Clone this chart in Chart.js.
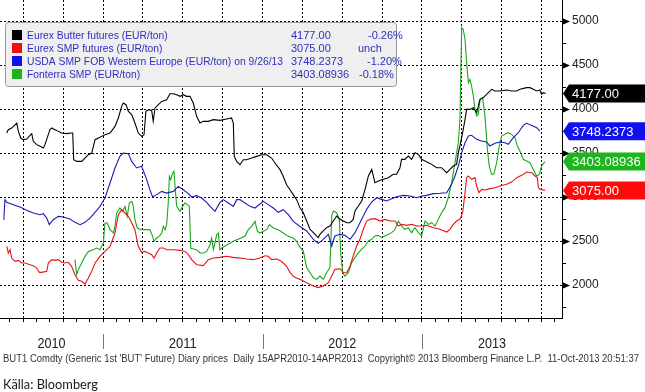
<!DOCTYPE html>
<html><head><meta charset="utf-8">
<script src="https://cdn.jsdelivr.net/npm/chart.js@4.4.0/dist/chart.umd.min.js"></script>
<style>html,body{margin:0;padding:0;background:#fff;overflow:hidden}canvas{display:block}</style>
</head><body>
<canvas id="c" width="645" height="392"></canvas>
<script>
// ---- DATA (x = decimal year) ----
const butterX = [2010.396,2010.406,2010.427,2010.459,2010.469,2010.484,2010.500,2010.521,2010.553,2010.563,
2010.584,2010.605,2010.626,2010.636,2010.667,2010.678,2010.699,2010.720,2010.741,2010.772,
2010.803,2010.810,2010.816,2010.835,2010.866,2010.887,2010.908,2010.929,2010.950,2010.971,
2010.991,2011.012,2011.044,2011.075,2011.096,2011.117,2011.127,2011.144,2011.159,2011.180,
2011.200,2011.221,2011.242,2011.257,2011.269,2011.284,2011.305,2011.315,2011.326,2011.347,
2011.368,2011.399,2011.420,2011.441,2011.462,2011.483,2011.503,2011.524,2011.545,2011.566,
2011.587,2011.608,2011.629,2011.660,2011.692,2011.733,2011.775,2011.806,2011.817,2011.823,
2011.838,2011.859,2011.880,2011.901,2011.932,2011.963,2011.995,2012.026,2012.057,2012.078,
2012.110,2012.130,2012.151,2012.172,2012.193,2012.214,2012.235,
2012.256,2012.277,2012.298,2012.319,2012.350,2012.360,2012.381,2012.402,2012.423,2012.444,
2012.465,2012.486,2012.507,2012.528,2012.549,2012.569,2012.580,2012.601,2012.622,2012.643,
2012.664,2012.685,2012.705,2012.726,2012.758,2012.789,2012.820,2012.841,2012.862,2012.872,
2012.893,2012.914,2012.935,2012.956,2012.977,2012.998,2013.019,2013.040,2013.061,2013.092,
2013.123,2013.155,2013.176,2013.196,2013.217,2013.228,2013.238,2013.255,2013.270,2013.280,
2013.301,2013.322,2013.343,2013.364,2013.385,2013.405,2013.437,2013.458,2013.489,2013.531,
2013.562,2013.594,2013.614,2013.656,2013.677,2013.698,2013.719,2013.740,2013.750,2013.761,2013.775];
const butterY = [3727,3765,3784,3841,3746,3670,3652,3659,3720,3633,
3595,3576,3557,3595,3765,3784,3765,3746,3727,3720,
3727,3727,3424,3405,3405,3443,3481,3500,3652,3670,
3689,3708,3727,3803,3898,4030,4068,4049,3973,3936,
3841,3727,3689,3708,3973,3992,3985,3860,4012,4049,
4087,4106,4174,4174,4163,4144,4163,4144,4144,4068,
3917,3841,3860,3860,3879,3871,3886,3898,3841,3462,
3405,3367,3424,3424,3443,3462,3481,3481,3443,3386,
3311,3235,3140,3083,3027,2970,2877,
2822,2727,2633,2595,2538,2576,2614,2651,2670,2727,
2784,2746,2727,2708,2708,2746,2841,2898,2955,3087,
3239,3314,3163,3182,3201,3220,3258,3258,3333,3428,
3428,3466,3428,3504,3485,3428,3409,3390,3371,3333,
3333,3276,3314,3352,3371,3504,3580,3731,3883,3996,
3996,4015,3958,4110,4129,4167,4224,4205,4205,4216,
4205,4205,4224,4243,4243,4224,4205,4216,4167,4186,4177];

const smpX = [2010.396,2010.406,2010.417,2010.427,2010.448,2010.469,2010.490,2010.511,2010.542,2010.563,
2010.584,2010.601,2010.615,2010.647,2010.657,2010.678,2010.699,2010.720,2010.741,2010.762,
2010.782,2010.803,2010.824,2010.845,2010.866,2010.887,2010.908,2010.929,2010.950,2010.981,
2011.012,2011.044,2011.075,2011.096,2011.117,2011.138,2011.159,2011.180,2011.200,2011.221,
2011.242,2011.263,2011.284,2011.305,2011.320,2011.336,2011.357,2011.378,2011.399,2011.441,
2011.483,2011.514,2011.535,2011.556,2011.587,2011.629,2011.660,2011.692,2011.733,2011.775,
2011.817,2011.859,2011.901,2011.942,2011.984,2012.015,2012.036,2012.057,2012.089,2012.110,
2012.130,2012.151,2012.172,2012.193,2012.214,
2012.235,2012.277,2012.319,2012.350,2012.381,2012.413,2012.434,2012.454,2012.486,2012.507,
2012.528,2012.549,2012.569,2012.590,2012.611,2012.632,2012.653,2012.674,2012.705,2012.737,
2012.768,2012.799,2012.831,2012.852,2012.872,2012.904,2012.935,2012.967,2012.998,2013.029,
2013.071,2013.113,2013.155,2013.176,2013.196,2013.217,2013.238,2013.255,2013.270,2013.280,
2013.291,2013.311,2013.332,2013.343,2013.357,2013.374,2013.395,2013.426,2013.458,2013.489,
2013.531,2013.562,2013.594,2013.625,2013.656,2013.688,2013.709,2013.723,2013.730,2013.740,2013.771];
const smpY = [2439,2364,2401,2306,2269,2280,2250,2250,2231,2220,
2193,2144,2144,2155,2250,2288,2280,2288,2258,2250,
2258,2212,2117,2053,2042,2011,2079,2155,2250,2326,
2382,2439,2591,2799,2856,2818,2780,2705,2629,2439,
2371,2382,2364,2345,2306,2364,2420,2420,2401,2401,
2394,2382,2345,2288,2231,2220,2288,2306,2314,2326,
2314,2306,2295,2288,2306,2333,2326,2288,2295,2280,
2250,2212,2144,2099,2079,
2064,2026,1989,1970,1989,2026,2102,2178,2185,2140,
2140,2216,2330,2443,2519,2633,2727,2746,2754,2727,
2746,2727,2727,2670,2689,2678,2689,2670,2670,2678,
2651,2633,2602,2633,2689,2727,2746,2822,3049,3220,
3239,3201,3220,3125,3049,3087,3080,3095,3106,3125,
3144,3170,3220,3246,3284,3276,3239,3220,3106,3087,3075];

const usdaX = [2010.378,2010.385,2010.396,2010.438,2010.479,2010.521,2010.563,2010.605,2010.626,2010.647,2010.663,
2010.688,2010.720,2010.751,2010.793,2010.824,2010.856,2010.887,2010.918,2010.950,2010.981,
2011.012,2011.044,2011.075,2011.106,2011.127,2011.159,2011.180,2011.211,2011.242,2011.274,
2011.294,2011.311,2011.336,2011.368,2011.399,2011.441,2011.472,2011.503,2011.535,2011.556,
2011.587,2011.618,2011.650,2011.671,2011.702,2011.733,2011.754,2011.786,2011.817,2011.838,
2011.859,2011.890,2011.922,2011.953,2011.984,2012.005,2012.036,2012.068,2012.099,2012.130,
2012.162,2012.193,2012.235,
2012.277,2012.319,2012.350,2012.381,2012.413,2012.434,2012.454,2012.486,2012.517,2012.549,
2012.580,2012.611,2012.653,2012.684,2012.716,2012.747,2012.778,2012.810,2012.841,2012.883,
2012.925,2012.967,2012.998,2013.029,2013.071,2013.113,2013.155,2013.186,2013.207,2013.228,
2013.249,2013.270,2013.291,2013.311,2013.343,2013.374,2013.405,2013.426,2013.458,2013.489,
2013.520,2013.541,2013.573,2013.604,2013.635,2013.656,2013.688,2013.719,2013.740];
const usdaY = [2740,2970,2939,2913,2886,2849,2818,2799,2810,2761,2686,
2742,2780,2773,2750,2712,2686,2712,2761,2826,2894,
2989,3159,3330,3462,3500,3492,3405,3330,3349,3197,
3083,3000,3027,3064,3045,3064,3121,3083,3038,3000,
3015,2989,2939,2894,2837,2939,2970,2932,2894,2970,
2970,2932,2894,2875,2920,2951,2913,2875,2826,2856,
2799,2723,2665,
2614,2519,2473,2519,2576,2443,2557,2576,2564,2519,
2595,2708,2860,2943,2992,2973,2955,2981,3004,3019,
3011,2992,3011,3019,3038,3042,3049,3144,3239,3352,
3504,3617,3693,3701,3655,3636,3625,3580,3610,3625,
3617,3599,3674,3731,3814,3837,3814,3788,3748];

const fonterraX = [2010.824,2010.835,2010.845,2010.866,2010.887,2010.908,2010.939,2010.960,2010.981,2011.002,
2011.012,2011.027,2011.044,2011.065,2011.075,2011.086,2011.106,2011.123,2011.138,2011.152,
2011.165,2011.180,2011.190,2011.200,2011.215,2011.242,2011.294,2011.311,2011.320,2011.336,
2011.353,2011.368,2011.378,2011.389,2011.399,2011.409,2011.416,2011.424,2011.437,2011.445,
2011.453,2011.462,2011.483,2011.499,2011.514,2011.529,2011.541,2011.550,2011.566,2011.587,
2011.608,2011.629,2011.650,2011.671,2011.681,2011.692,2011.702,2011.712,2011.723,2011.733,
2011.744,2011.817,2011.890,2011.911,2011.932,2011.953,2011.968,2011.984,2012.005,2012.026,
2012.043,2012.068,2012.099,2012.130,2012.162,2012.193,2012.214,2012.231,
2012.256,2012.277,2012.298,2012.319,2012.340,2012.360,2012.381,2012.402,2012.423,2012.434,
2012.444,2012.465,2012.482,2012.490,2012.503,2012.517,2012.538,2012.559,2012.580,2012.601,
2012.622,2012.643,2012.664,2012.685,2012.705,2012.726,2012.747,2012.768,2012.789,2012.810,
2012.831,2012.852,2012.872,2012.893,2012.914,2012.935,2012.956,2012.977,2012.998,2013.019,
2013.040,2013.061,2013.082,2013.102,2013.123,2013.144,2013.165,2013.186,2013.207,2013.228,
2013.238,2013.249,2013.259,2013.270,2013.280,2013.291,2013.301,2013.311,2013.322,2013.332,
2013.343,2013.353,2013.364,2013.380,2013.395,2013.410,2013.422,2013.437,2013.451,2013.468,
2013.483,2013.499,2013.520,2013.541,2013.562,2013.583,2013.598,2013.614,2013.635,2013.656,
2013.677,2013.698,2013.719,2013.736,2013.750,2013.771];
const fonterraY = [2288,2117,2174,2250,2326,2382,2401,2420,2401,2477,
2705,2705,2629,2591,2667,2818,2875,2837,2894,2780,
2932,2951,2894,2742,2648,2629,2629,2553,2496,2534,
2553,2591,2667,2629,2686,2932,3235,3197,3273,3292,
3083,2894,2837,2894,2932,2913,2894,2420,2409,2401,
2364,2364,2382,2458,2534,2401,2477,2572,2591,2401,
2420,2496,2553,2629,2667,2723,2610,2591,2610,2629,
2686,2648,2629,2591,2553,2534,2496,2439,
2386,2197,2140,2083,2064,2102,2064,2140,2197,2784,
2841,2822,2746,2367,2140,2102,2140,2254,2311,2367,
2405,2443,2500,2519,2557,2564,2538,2557,2576,2595,
2633,2727,2670,2633,2651,2595,2651,2595,2557,2727,
2689,2708,2670,2746,2822,2879,2992,3163,3390,3617,
3883,4924,4905,4792,4527,4299,4337,4261,4148,3996,
3921,3939,4110,4129,3921,3542,3352,3258,3258,3390,
3561,3693,3712,3731,3712,3674,3580,3523,3428,3409,
3390,3314,3239,3258,3352,3403];

// ---- LABELS ----
const seriesNames = ['Eurex Butter futures (EUR/ton)','Eurex SMP futures (EUR/ton)','USDA SMP FOB Western Europe (EUR/ton) on 9/26/13','Fonterra SMP (EUR/ton)'];
const lastLabels = ['4177.00','3075.00','3748.2373','3403.08936'];
const lastValues = [4177.00,3075.00,3748.2373,3403.08936];
const changeLabels = ['-0.26%','unch','-1.20%','-0.18%'];
const lineColors = ['#000000','#e81414','#1c1cb4','#1aa81a'];
const tagColors = ['#000000','#ff0a0a','#1010ee','#1eb41e'];
const yearLabels = ['2010','2011','2012','2013'];
const yMajorTicks = [2000,2500,3000,3500,4000,4500,5000];
const yMinorTicks = [1750,2250,2750,3250,3750,4250,4750];
const footerText = "BUT1 Comdty (Generic 1st 'BUT' Future) Diary prices  Daily 15APR2010-14APR2013  Copyright\u00A9 2013 Bloomberg Finance L.P.  11-Oct-2013 20:51:37";
const sourceText = 'Källa: Bloomberg';

const X_MIN = 2010.354, X_MAX = 2013.878;
const Y_MIN = 1625, Y_MAX = 5239;

const pts = (xs, ys) => xs.map((x, i) => ({x: x, y: ys[i]}));
const monthTicks = [];
for (let m = 5; m <= 46; m++) monthTicks.push(2010 + m / 12);
const isQuarter = v => Math.round((v - 2010) * 12) % 3 === 0;
const isMajorY = v => yMajorTicks.includes(v);

const decor = {
  id: 'decor',
  afterDraw(chart) {
    const {ctx, chartArea: ca, scales: {x, y}} = chart;
    ctx.save();
    // arrows on major y ticks
    ctx.fillStyle = '#000';
    yMajorTicks.forEach(v => {
      const py = Math.round(y.getPixelForValue(v)) + 0.5;
      ctx.beginPath();
      ctx.moveTo(ca.right, py - 3.5); ctx.lineTo(ca.right + 8, py); ctx.lineTo(ca.right, py + 3.5);
      ctx.closePath(); ctx.fill();
    });
    // year labels + separators
    ctx.font = "14px 'Liberation Sans', sans-serif";
    ctx.fillStyle = '#222'; ctx.textAlign = 'center'; ctx.textBaseline = 'alphabetic';
    yearLabels.forEach(lbl => {
      const yr = parseInt(lbl, 10);
      const a = x.getPixelForValue(Math.max(yr, X_MIN));
      const b = x.getPixelForValue(Math.min(yr + 1, X_MAX));
      ctx.fillText(lbl, (a + b) / 2, 348, 28);
      if (yr > X_MIN && yr < X_MAX) {
        const sx = Math.round(x.getPixelForValue(yr)) + 0.5;
        ctx.strokeStyle = '#777'; ctx.lineWidth = 1;
        ctx.beginPath(); ctx.moveTo(sx, 334); ctx.lineTo(sx, 349); ctx.stroke();
      }
    });
    // footer
    ctx.textAlign = 'left';
    ctx.font = "10px 'Liberation Sans', sans-serif";
    ctx.fillStyle = '#333';
    ctx.fillText(footerText, 3, 362, 636);
    ctx.font = "14px Lato, 'Open Sans', sans-serif";
    ctx.fillStyle = '#1a1a1a';
    ctx.fillText(sourceText, 3, 389, 95);
    // legend box
    const lx = 5.5, ly = 22.5, lw = 391, lh = 64, r = 3;
    ctx.beginPath();
    ctx.moveTo(lx + r, ly); ctx.lineTo(lx + lw - r, ly); ctx.quadraticCurveTo(lx + lw, ly, lx + lw, ly + r);
    ctx.lineTo(lx + lw, ly + lh - r); ctx.quadraticCurveTo(lx + lw, ly + lh, lx + lw - r, ly + lh);
    ctx.lineTo(lx + r, ly + lh); ctx.quadraticCurveTo(lx, ly + lh, lx, ly + lh - r);
    ctx.lineTo(lx, ly + r); ctx.quadraticCurveTo(lx, ly, lx + r, ly); ctx.closePath();
    ctx.fillStyle = '#efefef'; ctx.fill();
    ctx.strokeStyle = '#9a9a9a'; ctx.lineWidth = 1; ctx.stroke();
    const rowY = [35, 48, 61, 74];
    const chgX = [368, 358, 367, 359];
    ctx.font = "11px 'Liberation Sans', sans-serif";
    ctx.textBaseline = 'middle';
    const squeeze = Math.min(1, 256 / ctx.measureText(seriesNames[2]).width);
    seriesNames.forEach((n, i) => {
      ctx.fillStyle = tagColors[i];
      ctx.fillRect(12, rowY[i] - 5, 10, 10);
      ctx.fillStyle = '#2e2ec4';
      ctx.fillText(n, 27, rowY[i] + 0.5, ctx.measureText(n).width * squeeze);
      ctx.fillText(lastLabels[i], 291, rowY[i] + 0.5);
      ctx.fillText(changeLabels[i], chgX[i], rowY[i] + 0.5);
    });
    // value tags on the right axis
    ctx.font = "13px 'Liberation Sans', sans-serif";
    lastValues.forEach((v, i) => {
      const cy = y.getPixelForValue(v);
      const h = 18, left = ca.right + 1, bx = ca.right + 7, right = 645;
      ctx.beginPath();
      ctx.moveTo(left, cy); ctx.lineTo(bx, cy - h / 2); ctx.lineTo(right, cy - h / 2);
      ctx.lineTo(right, cy + h / 2); ctx.lineTo(bx, cy + h / 2); ctx.closePath();
      ctx.fillStyle = tagColors[i]; ctx.fill();
      ctx.fillStyle = '#fff';
      ctx.fillText(lastLabels[i], ca.right + 10, cy + 1);
    });
    ctx.restore();
  }
};

const ds = (label, xs, ys, color) => ({
  label, data: pts(xs, ys), borderColor: color, backgroundColor: color,
  borderWidth: 1.1, pointRadius: 0, tension: 0, fill: false
});

new Chart(document.getElementById('c'), {
  type: 'line',
  data: {
    datasets: [
      ds(seriesNames[0], butterX, butterY, lineColors[0]),
      ds(seriesNames[2], usdaX, usdaY, lineColors[2]),
      ds(seriesNames[1], smpX, smpY, lineColors[1]),
      ds(seriesNames[3], fonterraX, fonterraY, lineColors[3])
    ]
  },
  options: {
    responsive: false, animation: false, events: [],
    layout: {padding: 0},
    plugins: {legend: {display: false}, tooltip: {enabled: false}},
    scales: {
      x: {
        type: 'linear', min: X_MIN, max: X_MAX, position: 'bottom',
        afterBuildTicks: s => { s.ticks = monthTicks.map(v => ({value: v})); },
        afterFit: s => { s.height = 74; s.paddingLeft = 0; s.paddingRight = 0; },
        ticks: {display: false},
        grid: {
          color: c => (c.tick && isQuarter(c.tick.value)) ? '#000' : 'rgba(0,0,0,0)',
          tickColor: '#000', tickLength: 4, lineWidth: 1, drawTicks: true
        },
        border: {display: true, color: '#000', width: 1, dash: [2, 2]}
      },
      y: {
        type: 'linear', position: 'right', min: Y_MIN, max: Y_MAX,
        afterBuildTicks: s => { s.ticks = yMinorTicks.concat(yMajorTicks).sort((a, b) => a - b).map(v => ({value: v})); },
        afterFit: s => { s.width = 83; s.paddingTop = 0; s.paddingBottom = 0; },
        ticks: {
          autoSkip: false, padding: 6, color: '#222',
          font: {family: "'Liberation Sans', sans-serif", size: 12},
          callback: v => isMajorY(v) ? String(v) : ''
        },
        grid: {
          color: c => (c.tick && isMajorY(c.tick.value)) ? '#000' : 'rgba(0,0,0,0)',
          tickColor: c => (c.tick && isMajorY(c.tick.value)) ? 'rgba(0,0,0,0)' : '#000',
          tickLength: 4, lineWidth: 1
        },
        border: {display: true, color: '#000', width: 1, dash: [2, 2]}
      }
    }
  },
  plugins: [decor]
});
</script>
</body></html>
